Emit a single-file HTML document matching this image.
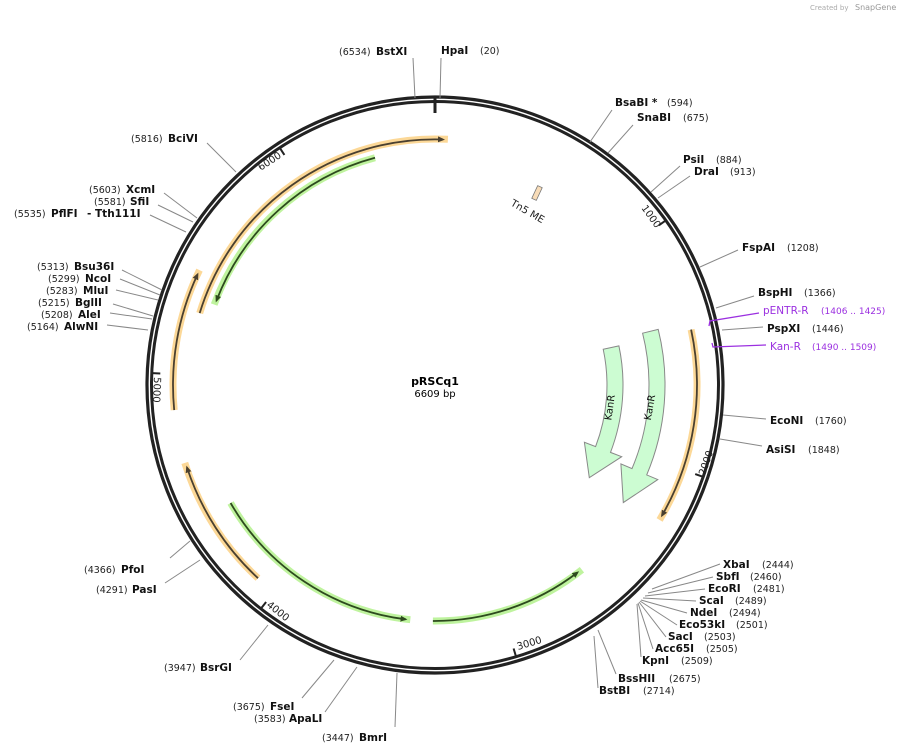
<!DOCTYPE html>
<html><head><meta charset="utf-8"><style>
html,body{margin:0;padding:0;background:#fff;}
svg{display:block;font-family:"DejaVu Sans","Liberation Sans",sans-serif;}
.n{font-weight:bold;font-size:10.5px;fill:#111;}
.p{font-size:9.5px;fill:#222;}
.l{stroke:#888;stroke-width:1;fill:none;}
.tk{font-size:10px;fill:#222;}
</style></head><body>
<svg width="907" height="753" viewBox="0 0 907 753" xmlns="http://www.w3.org/2000/svg">
<defs>
<marker id="ah" markerWidth="8" markerHeight="8" refX="5" refY="3" orient="auto" markerUnits="userSpaceOnUse"><path d="M0,0 L7,3 L0,6 Z" fill="#4a4030"/></marker>
<marker id="ag" markerWidth="8" markerHeight="8" refX="5" refY="3" orient="auto" markerUnits="userSpaceOnUse"><path d="M0,0 L7,3 L0,6 Z" fill="#2d4a1e"/></marker>
</defs>
<text x="810" y="10" font-size="7" fill="#aaa">Created by</text><text x="855" y="10" font-size="8" fill="#999">SnapGene</text>

<circle cx="435" cy="385" r="288" fill="none" stroke="#222" stroke-width="3.2"/>
<circle cx="435" cy="385" r="283.5" fill="none" stroke="#222" stroke-width="3"/>
<line x1="435" y1="98" x2="435" y2="113" stroke="#222" stroke-width="3"/>

<g stroke="#222" stroke-width="2">
<line x1="665.4" y1="220.7" x2="658.9" y2="225.3"/>
<line x1="702.7" y1="476.7" x2="695.2" y2="474.1"/>
<line x1="515.9" y1="656.2" x2="513.6" y2="648.5"/>
<line x1="261.2" y1="608.3" x2="266.1" y2="602"/>
<line x1="152.3" y1="373.1" x2="160.3" y2="373.5"/>
<line x1="280" y1="148.2" x2="284.4" y2="154.9"/>
</g>
<text class="tk" transform="translate(641,208) rotate(54.5)">1000</text>
<text class="tk" transform="translate(705,476) rotate(-71.1)">2000</text>
<text class="tk" transform="translate(518,650) rotate(-16.6)">3000</text>
<text class="tk" transform="translate(266,606) rotate(37.9)">4000</text>
<text class="tk" transform="translate(154,377) rotate(92.4)">5000</text>
<text class="tk" text-anchor="end" transform="translate(282,157) rotate(-33.2)">6000</text>

<g fill="none" stroke-linecap="butt">
<g stroke="#fcd48c" stroke-width="7" opacity="0.9">
<path d="M199.7,313.1 A246,246 0 0 1 447.9,139.3"/>
<path d="M174.2,410.1 A262,262 0 0 1 199.5,270.1"/>
<path d="M691.1,329.6 A262,262 0 0 1 659.6,519.9"/>
<path d="M258,578.2 A262,262 0 0 1 184.8,462.9"/>
</g>
<g stroke="#b8f294" stroke-width="7" opacity="0.9">
<path d="M375,157.8 A235,235 0 0 0 214.2,304.6"/>
<path d="M230.6,503 A236,236 0 0 0 410.3,619.7"/>
<path d="M432.9,621 A236,236 0 0 0 581.9,569.7"/>
</g>
<g stroke="#4a4030" stroke-width="1.8">
<path d="M199.7,313.1 A246,246 0 0 1 443,139.5" marker-end="url(#ah)"/>
<path d="M174.2,410.1 A262,262 0 0 1 197.5,274.5" marker-end="url(#ah)"/>
<path d="M691.1,329.6 A262,262 0 0 1 662,515.5" marker-end="url(#ah)"/>
<path d="M258,578.2 A262,262 0 0 1 187,467.5" marker-end="url(#ah)"/>
</g>
<g stroke="#2d4a1e" stroke-width="1.8">
<path d="M375,157.8 A235,235 0 0 0 216.5,300.5" marker-end="url(#ag)"/>
<path d="M230.6,503 A236,236 0 0 0 405.5,619.3" marker-end="url(#ag)"/>
<path d="M432.9,621 A236,236 0 0 0 577.5,572.5" marker-end="url(#ag)"/>
</g>
</g>

<path d="M618.9,345.9 A188,188 0 0 1 610.5,452.4 L621.7,456.7 L589.3,477.7 L584.4,442.3 L595.6,446.6 A172,172 0 0 0 603.2,349.2 Z" fill="#ccfcd2" stroke="#888" stroke-width="1"/>
<path d="M658.2,329.4 A230,230 0 0 1 646.7,474.9 L657.8,479.6 L623.3,502.6 L620.9,463.9 L632,468.6 A214,214 0 0 0 642.6,333.2 Z" fill="#ccfcd2" stroke="#888" stroke-width="1"/>
<text font-size="10" fill="#111" text-anchor="middle" transform="translate(613,408) rotate(-82)">KanR</text>
<text font-size="10" fill="#111" text-anchor="middle" transform="translate(653,408) rotate(-80)">KanR</text>

<rect x="-2.5" y="-7" width="5" height="14" fill="#f8dcb8" stroke="#777" stroke-width="0.8" transform="translate(537,193) rotate(25)"/>
<text font-size="10" fill="#222" transform="translate(510,205) rotate(30)">Tn5 ME</text>

<text x="435" y="385" text-anchor="middle" font-weight="bold" font-size="11">pRSCq1</text>
<text x="435" y="397" text-anchor="middle" font-size="10">6609 bp</text>

<g class="l">
<path d="M413,58 L415,98"/><path d="M441,58 L440,98"/>
<path d="M612,110 L590,142"/><path d="M633,125 L608,153"/>
<path d="M680,166 L651,192"/><path d="M690,176 L658,198"/>
<path d="M738,250 L700,267"/><path d="M754,296 L716,308"/>
<path d="M763,327 L722,330"/>
<path d="M766,419 L723,415"/><path d="M762,446 L720,439"/>
<path d="M720,564 L652,589"/><path d="M713,577 L648,593"/><path d="M705,589 L645,596"/>
<path d="M696,601 L643,598"/><path d="M687,613 L641,600"/><path d="M677,625 L640,601"/>
<path d="M666,637 L639,602"/><path d="M653,649 L638,603"/><path d="M641,657 L637,604"/>
<path d="M616,674 L598,630"/><path d="M598,688 L594,636"/>
<path d="M170,558 L190,541"/><path d="M165,583 L200,560"/>
<path d="M240,660 L268,625"/>
<path d="M302,698 L334,660"/><path d="M325,712 L357,667"/>
<path d="M395,727 L397,673"/>
<path d="M207,143 L236,172"/>
<path d="M164,193 L197,218"/><path d="M158,205 L193,222"/><path d="M150,215 L186,232"/>
<path d="M122,270 L162,290"/><path d="M120,279 L160,295"/><path d="M116,290 L158,300"/>
<path d="M113,304 L153,316"/><path d="M110,313 L152,319"/><path d="M107,325 L148,330"/>
</g>
<g stroke="#9b30e0" stroke-width="1.3" fill="none">
<path d="M759,313 L710,321 L709,326"/>
<path d="M766,345 L713,347 L712,343"/>
</g>

<text class="p" x="339" y="55">(6534)</text><text class="n" x="376" y="55">BstXI</text>
<text class="n" x="441" y="54">HpaI</text><text class="p" x="480" y="54">(20)</text>
<text class="n" x="615" y="106">BsaBI *</text><text class="p" x="667" y="106">(594)</text>
<text class="n" x="637" y="121">SnaBI</text><text class="p" x="683" y="121">(675)</text>
<text class="n" x="683" y="163">PsiI</text><text class="p" x="716" y="163">(884)</text>
<text class="n" x="694" y="175">DraI</text><text class="p" x="730" y="175">(913)</text>
<text class="n" x="742" y="251">FspAI</text><text class="p" x="787" y="251">(1208)</text>
<text class="n" x="758" y="296">BspHI</text><text class="p" x="804" y="296">(1366)</text>
<text x="763" y="314" font-size="10.5" fill="#9b30e0">pENTR-R</text><text x="821" y="314" font-size="9" fill="#9b30e0">(1406 .. 1425)</text>
<text class="n" x="767" y="332">PspXI</text><text class="p" x="812" y="332">(1446)</text>
<text x="770" y="350" font-size="10.5" fill="#9b30e0">Kan-R</text><text x="812" y="350" font-size="9" fill="#9b30e0">(1490 .. 1509)</text>
<text class="n" x="770" y="424">EcoNI</text><text class="p" x="815" y="424">(1760)</text>
<text class="n" x="766" y="453">AsiSI</text><text class="p" x="808" y="453">(1848)</text>

<text class="n" x="723" y="568">XbaI</text><text class="p" x="762" y="568">(2444)</text>
<text class="n" x="716" y="580">SbfI</text><text class="p" x="750" y="580">(2460)</text>
<text class="n" x="708" y="592">EcoRI</text><text class="p" x="753" y="592">(2481)</text>
<text class="n" x="699" y="604">ScaI</text><text class="p" x="735" y="604">(2489)</text>
<text class="n" x="690" y="616">NdeI</text><text class="p" x="729" y="616">(2494)</text>
<text class="n" x="679" y="628">Eco53kI</text><text class="p" x="736" y="628">(2501)</text>
<text class="n" x="668" y="640">SacI</text><text class="p" x="704" y="640">(2503)</text>
<text class="n" x="655" y="652">Acc65I</text><text class="p" x="706" y="652">(2505)</text>
<text class="n" x="642" y="664">KpnI</text><text class="p" x="681" y="664">(2509)</text>
<text class="n" x="618" y="682">BssHII</text><text class="p" x="669" y="682">(2675)</text>
<text class="n" x="599" y="694">BstBI</text><text class="p" x="643" y="694">(2714)</text>

<text class="p" x="84" y="573">(4366)</text><text class="n" x="121" y="573">PfoI</text>
<text class="p" x="96" y="593">(4291)</text><text class="n" x="132" y="593">PasI</text>
<text class="p" x="164" y="671">(3947)</text><text class="n" x="200" y="671">BsrGI</text>
<text class="p" x="233" y="710">(3675)</text><text class="n" x="270" y="710">FseI</text>
<text class="p" x="254" y="722">(3583)</text><text class="n" x="289" y="722">ApaLI</text>
<text class="p" x="322" y="741">(3447)</text><text class="n" x="359" y="741">BmrI</text>

<text class="p" x="131" y="142">(5816)</text><text class="n" x="168" y="142">BciVI</text>
<text class="p" x="89" y="193">(5603)</text><text class="n" x="126" y="193">XcmI</text>
<text class="p" x="94" y="205">(5581)</text><text class="n" x="130" y="205">SfiI</text>
<text class="p" x="14" y="217">(5535)</text><text class="n" x="51" y="217">PflFI</text><text class="n" x="87" y="217">- Tth111I</text>
<text class="p" x="37" y="270">(5313)</text><text class="n" x="74" y="270">Bsu36I</text>
<text class="p" x="48" y="282">(5299)</text><text class="n" x="85" y="282">NcoI</text>
<text class="p" x="46" y="294">(5283)</text><text class="n" x="83" y="294">MluI</text>
<text class="p" x="38" y="306">(5215)</text><text class="n" x="75" y="306">BglII</text>
<text class="p" x="41" y="318">(5208)</text><text class="n" x="78" y="318">AleI</text>
<text class="p" x="27" y="330">(5164)</text><text class="n" x="64" y="330">AlwNI</text>
</svg>
</body></html>
